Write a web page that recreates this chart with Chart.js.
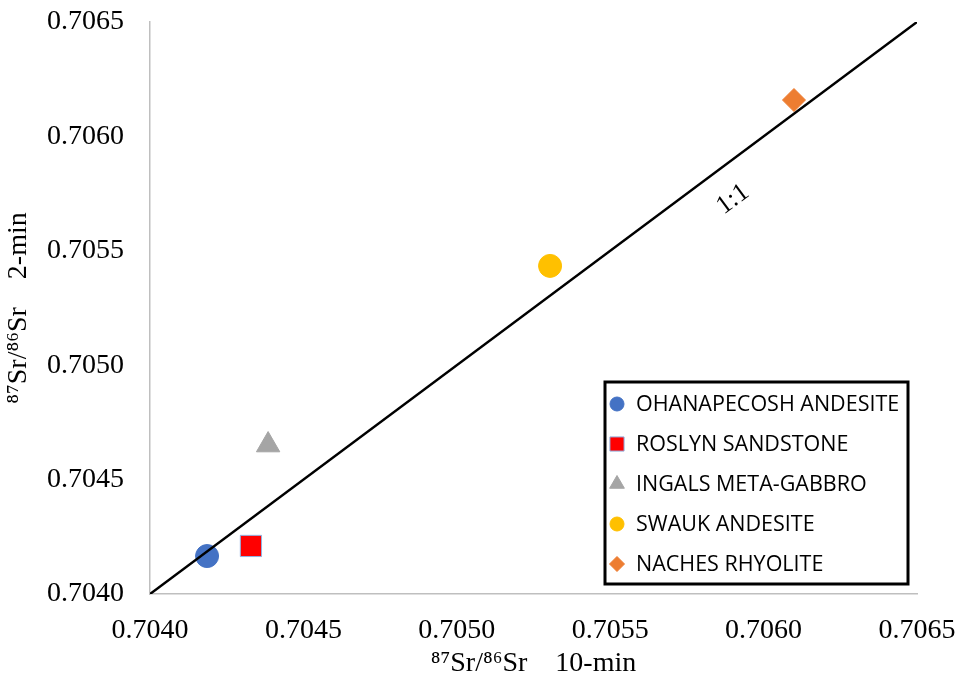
<!DOCTYPE html>
<html>
<head>
<meta charset="utf-8">
<script src="https://cdn.jsdelivr.net/npm/chart.js@4/dist/chart.umd.min.js"></script>
<style>
  html, body { margin: 0; padding: 0; background: #fff; }
  #wrap { width: 960px; height: 683px; }
</style>
</head>
<body>
<div id="wrap"><canvas id="myChart"></canvas></div>
<script>
// sample names and Sr ratios (10-min on x, 2-min on y)
const samples = ["OHANAPECOSH ANDESITE", "ROSLYN SANDSTONE", "INGALS META-GABBRO", "SWAUK ANDESITE", "NACHES RHYOLITE"];
const tenMin = [0.704186, 0.704329, 0.704385, 0.705304, 0.706099];
const twoMin = [0.704166, 0.704210, 0.704651, 0.705434, 0.706159];
const colors = ["#4472C4", "#FF0000", "#A5A5A5", "#FFC000", "#ED7D31"];
const borders = ["#4472C4", "#8EB4E3", "#A5A5A5", "#FFC000", "#ED7D31"];
const shapes = ["circle", "rect", "triangle", "circle", "rectRot"];
const sizes = [11.5, 15, 13.5, 11.5, 11.5];
const legendSizes = [7, 10, 8.5, 7, 7.5];
const oneToOne = [0.7040, 0.7065];
const axisMin = 0.7040;
const axisMax = 0.7065;

const ctx = document.getElementById("myChart");

const datasets = samples.map((name, i) => ({
    type: "scatter",
    label: name,
    data: [{ x: tenMin[i], y: twoMin[i] }],
    backgroundColor: colors[i],
    borderColor: borders[i],
    borderWidth: 1,
    pointStyle: shapes[i],
    pointRadius: sizes[i],
    pointHoverRadius: sizes[i],
}));

datasets.unshift({
    type: "line",
    label: "1:1",
    data: oneToOne.map((v) => ({ x: v, y: v })),
    borderColor: "#000000",
    borderWidth: 2.5,
    pointRadius: 0,
    fill: false,
});

// label along the 1:1 line + legend box inside the plot
const extras = {
    id: "extras",
    afterDatasetsDraw(chart) {
        const c = chart.ctx;
        const xs = chart.scales.x, ys = chart.scales.y;
        const ang = Math.atan2(ys.getPixelForValue(axisMax) - ys.getPixelForValue(axisMin),
            xs.getPixelForValue(axisMax) - xs.getPixelForValue(axisMin));
        c.save();
        c.translate(xs.getPixelForValue(0.70590), ys.getPixelForValue(0.705725));
        c.rotate(ang);
        c.font = "26px 'Liberation Serif'";
        c.fillStyle = "#000";
        c.textAlign = "center";
        c.textBaseline = "middle";
        c.fillText("1:1", 0, 0);
        c.restore();

        // legend
        const bx = 605, by = 382, bw = 303, bh = 202;
        c.save();
        c.fillStyle = "#fff";
        c.fillRect(bx, by, bw, bh);
        c.lineWidth = 3;
        c.strokeStyle = "#000";
        c.strokeRect(bx, by, bw, bh);
        c.font = "21.5px 'Open Sans'";
        c.textBaseline = "middle";
        c.textAlign = "left";
        samples.forEach((name, i) => {
            const y = by + 22 + i * 40;
            c.fillStyle = colors[i];
            c.strokeStyle = borders[i];
            c.lineWidth = 1;
            Chart.helpers.drawPoint(c, { pointStyle: shapes[i], radius: legendSizes[i], borderWidth: 1 }, 617, y);
            c.fillStyle = "#000";
            c.fillText(name, 636, y + 1);
        });
        c.restore();
    },
};

const serif = "'Liberation Serif', 'Times New Roman', serif";

new Chart(ctx, {
    data: { datasets: datasets },
    options: {
        responsive: true,
        maintainAspectRatio: false,
        animation: false,
        layout: { padding: { top: 22, right: 43, bottom: 0, left: 0 } },
        plugins: {
            legend: { display: false },
            tooltip: { enabled: false },
        },
        scales: {
            x: {
                type: "linear",
                min: axisMin,
                max: axisMax,
                afterFit: (s) => { s.height = 89; s.paddingLeft = 0; s.paddingRight = 0; },
                grid: { color: "rgba(0,0,0,0)", drawTicks: false },
                border: { display: true, color: "#BFBFBF", width: 1.5 },
                ticks: {
                    stepSize: 0.0005,
                    padding: 20,
                    color: "#000",
                    font: { family: serif, size: 28 },
                    callback: (v) => v.toFixed(4),
                },
                title: {
                    display: true,
                    text: "\u2078\u2077Sr/\u2078\u2076Sr    10-min",
                    color: "#000",
                    font: { family: serif, size: 28 },
                    padding: { top: 0, bottom: 3 },
                },
            },
            y: {
                type: "linear",
                min: axisMin,
                max: axisMax,
                afterFit: (s) => { s.width = 150; s.paddingTop = 0; s.paddingBottom = 0; },
                grid: { color: "rgba(0,0,0,0)", drawTicks: false },
                border: { display: true, color: "#BFBFBF", width: 1.5 },
                ticks: {
                    stepSize: 0.0005,
                    padding: 26,
                    color: "#000",
                    font: { family: serif, size: 28 },
                    callback: (v) => v.toFixed(4),
                },
                title: {
                    display: true,
                    text: "\u2078\u2077Sr/\u2078\u2076Sr    2-min",
                    color: "#000",
                    font: { family: serif, size: 28 },
                    padding: { top: 2, bottom: 0 },
                },
            },
        },
    },
    plugins: [extras],
});
</script>
</body>
</html>
